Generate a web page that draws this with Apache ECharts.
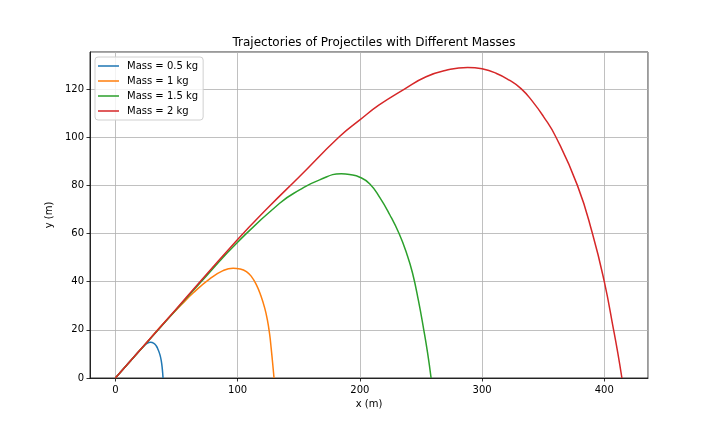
<!DOCTYPE html>
<html>
<head>
<meta charset="utf-8">
<script src="https://cdn.jsdelivr.net/npm/echarts@6/dist/echarts.min.js"></script>
<style>
  html, body { margin:0; padding:0; background:#fff; }
  #chart { width:720px; height:432px; }
</style>
</head>
<body>
<div id="chart"></div>
<script>
// 读图得到的轨迹点 [x, y]
const massLabels = ['Mass = 0.5 kg', 'Mass = 1 kg', 'Mass = 1.5 kg', 'Mass = 2 kg'];
const lineColors = ['#1f77b4', '#ff7f0e', '#2ca02c', '#d62728'];

const massHalf = [
  [0, 0], [10, 5.8], [20, 11.5], [23, 13.1], [26, 14.4], [28.7, 14.8], [31.5, 14.4],
  [33.5, 13.3], [35, 11.7], [36.5, 9.6], [37.6, 7.0], [38.4, 3.8], [39, 0]
];
const massOne = [
  [0, 0], [20, 11.5], [40, 23], [54, 30.4], [63.6, 35.3], [77.2, 41.2], [88.1, 44.6],
  [96.3, 45.6], [102, 45.3], [107.2, 44.2], [111.5, 42], [115.4, 38.7], [118.8, 34.5],
  [122.2, 29], [124.4, 24], [126.2, 18.2], [127.5, 12.2], [128.7, 6], [129.8, 0]
];
const massOneHalf = [
  [0, 0], [50, 28.6], [75, 42.7], [100, 56.4], [134.4, 72.6], [150.7, 78.1], [167.1, 82.3],
  [184.8, 84.8], [191.6, 84.5], [200, 83.4], [208.2, 80.6], [216.4, 74.9], [224.5, 67.8],
  [232.1, 60], [238.2, 51.9], [243.1, 43.6], [248, 32], [252.3, 20], [255.4, 10.5], [258.3, 0]
];
const massTwo = [
  [0, 0], [50, 28.8], [100, 57.5], [125, 70.8], [150.7, 83.7], [183.4, 100.3], [200, 107.2],
  [215.8, 113.4], [236.5, 120], [254.2, 125.1], [270.6, 127.8], [288.2, 129], [300, 128.4],
  [311.4, 126.6], [322.3, 123.7], [331.9, 120.2], [341.4, 114.8], [350, 108.8], [360.5, 100],
  [378, 80], [390.3, 60], [400, 40], [407.6, 20], [411, 10.5], [414.4, 0]
];
const seriesData = [massHalf, massOne, massOneHalf, massTwo];

const xMin = -20.75, xMax = 435.75;
const yMin = 0, yMax = 135.4;

const FONT = 'DejaVu Sans';
// 图例用细线图标（上下两条不可见的细边撑住高度）
const LINE_ICON = 'path://M0,0H21V0.01H0Z M0,4.25H21V5.75H0Z M0,9.99H21V10H0Z';

const chart = echarts.init(document.getElementById('chart'), null, { renderer: 'canvas' });

const option = {
  animation: false,
  backgroundColor: '#fff',
  textStyle: { fontFamily: FONT },
  title: {
    text: 'Trajectories of Projectiles with Different Masses',
    left: 369, top: 32, textAlign: 'center',
    textStyle: { fontFamily: FONT, fontSize: 12, fontWeight: 'normal', color: '#000' }
  },
  legend: {
    orient: 'vertical',
    left: 95, top: 57,
    padding: [4, 5, 4, 3],
    itemWidth: 21, itemHeight: 10, itemGap: 5,
    icon: LINE_ICON,
    backgroundColor: 'rgba(255,255,255,0.8)',
    borderColor: '#d0d0d0', borderWidth: 1, borderRadius: 3,
    textStyle: { fontFamily: FONT, fontSize: 10, color: '#000', padding: [0, 0, 0, 3] },
    data: massLabels
  },
  grid: {
    left: 90, right: 72, top: 52, bottom: 54,
    show: true, borderColor: '#000', borderWidth: 0.8, backgroundColor: 'transparent'
  },
  xAxis: {
    type: 'value', min: xMin, max: xMax, splitNumber: 5,
    name: 'x (m)', nameLocation: 'middle', nameGap: 21,
    nameTextStyle: { fontFamily: FONT, fontSize: 10, color: '#000' },
    axisLine: { show: true, onZero: false, lineStyle: { color: '#000', width: 0.8 } },
    axisTick: { show: true, length: 3.5, lineStyle: { color: '#000', width: 0.8 } },
    axisLabel: {
      fontFamily: FONT, fontSize: 10, color: '#000', margin: 7,
      showMinLabel: false, showMaxLabel: false,
      formatter: v => (Math.abs(v % 100) < 1e-6 ? String(v) : '')
    },
    splitLine: { show: true, lineStyle: { color: '#b0b0b0', width: 0.8 } }
  },
  yAxis: {
    type: 'value', min: yMin, max: yMax, interval: 20,
    name: 'y (m)', nameLocation: 'middle', nameGap: 29, nameRotate: 90,
    nameTextStyle: { fontFamily: FONT, fontSize: 10, color: '#000' },
    axisLine: { show: true, onZero: false, lineStyle: { color: '#000', width: 0.8 } },
    axisTick: { show: true, length: 3.5, lineStyle: { color: '#000', width: 0.8 } },
    axisLabel: {
      fontFamily: FONT, fontSize: 10, color: '#000', margin: 6,
      showMaxLabel: false,
      formatter: v => (Math.abs(v % 20) < 1e-6 ? String(v) : '')
    },
    splitLine: { show: true, lineStyle: { color: '#b0b0b0', width: 0.8 } }
  },
  series: seriesData.map((d, i) => ({
    name: massLabels[i],
    type: 'line',
    data: d,
    symbol: 'none',
    smooth: 0.5,
    clip: true,
    color: lineColors[i],
    lineStyle: { color: lineColors[i], width: 1.5 }
  }))
};

chart.setOption(option);
</script>
</body>
</html>
